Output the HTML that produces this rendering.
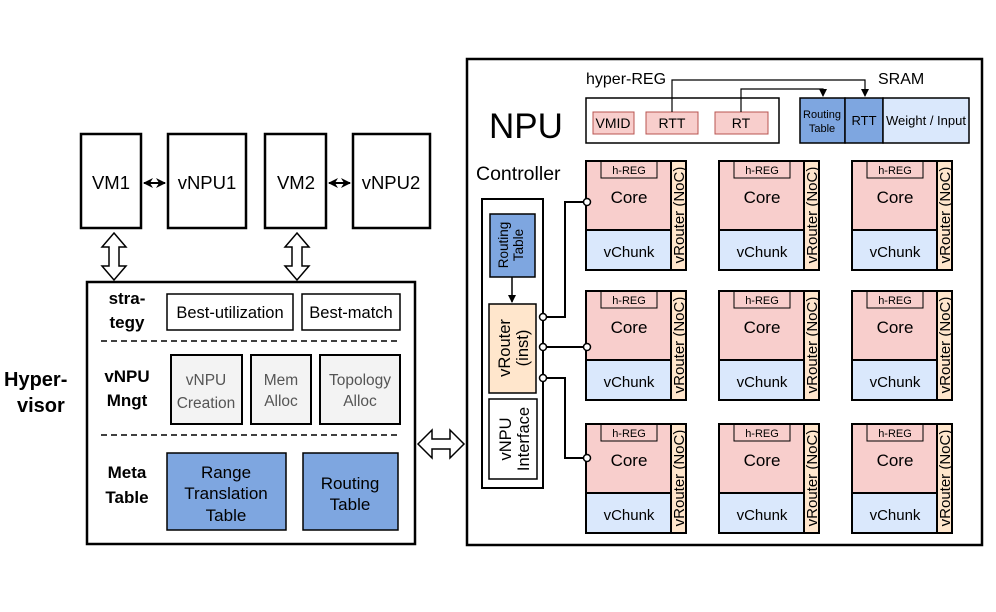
<!DOCTYPE html>
<html><head><meta charset="utf-8"><style>body{margin:0;background:#fff}svg{display:block}text{font-family:"Liberation Sans",sans-serif}</style></head><body>
<svg width="996" height="612" viewBox="0 0 996 612" xmlns="http://www.w3.org/2000/svg">
<defs>
<marker id="ah" markerWidth="8" markerHeight="8" refX="7" refY="4" orient="auto" markerUnits="userSpaceOnUse"><path d="M0,0 L8,4 L0,8 z" fill="#000"/></marker>
<marker id="ahs" markerWidth="10" markerHeight="10" refX="9" refY="5" orient="auto-start-reverse" markerUnits="userSpaceOnUse"><path d="M0,0 L10,5 L0,10 L3,5 z" fill="#000"/></marker>
</defs>
<g stroke="#000" stroke-width="2.5" fill="#fff">
<rect x="81" y="134" width="60" height="94"/>
<rect x="168" y="134" width="78" height="94"/>
<rect x="265" y="134" width="61" height="94"/>
<rect x="353" y="134" width="77" height="94"/>
</g>
<g font-size="18.5" text-anchor="middle">
<text x="111" y="189">VM1</text><text x="207" y="189">vNPU1</text>
<text x="296" y="189">VM2</text><text x="391" y="189">vNPU2</text>
</g>
<line x1="144" y1="183" x2="165" y2="183" stroke="#000" stroke-width="2" marker-start="url(#ahs)" marker-end="url(#ahs)"/>
<line x1="329" y1="183" x2="350" y2="183" stroke="#000" stroke-width="2" marker-start="url(#ahs)" marker-end="url(#ahs)"/>
<path d="M114,233 L126,247 L119,247 L119,266 L126,266 L114,280 L102,266 L109,266 L109,247 L102,247 Z" fill="#fff" stroke="#000" stroke-width="1.5"/>
<path d="M297,233 L309,247 L302,247 L302,266 L309,266 L297,280 L285,266 L292,266 L292,247 L285,247 Z" fill="#fff" stroke="#000" stroke-width="1.5"/>
<rect x="87" y="282" width="328" height="262" fill="#fff" stroke="#000" stroke-width="2.5"/>
<g font-size="20" font-weight="bold"><text x="4" y="386">Hyper-</text><text x="17" y="412">visor</text></g>
<g font-size="17" font-weight="bold" text-anchor="middle">
<text x="127" y="304">stra-</text><text x="127" y="328">tegy</text>
<text x="127" y="382">vNPU</text><text x="127" y="406">Mngt</text>
<text x="127" y="478">Meta</text><text x="127" y="503">Table</text>
</g>
<g stroke="#000" stroke-width="1.5" fill="#fff">
<rect x="167" y="294" width="126" height="36"/><rect x="302" y="294" width="98" height="36"/>
</g>
<g font-size="16.5" text-anchor="middle"><text x="230" y="318">Best-utilization</text><text x="351" y="318">Best-match</text></g>
<line x1="101" y1="341" x2="401" y2="341" stroke="#000" stroke-width="1.5" stroke-dasharray="6,4"/>
<line x1="101" y1="435" x2="401" y2="435" stroke="#000" stroke-width="1.5" stroke-dasharray="6,4"/>
<g stroke="#000" stroke-width="2" fill="#f3f3f3">
<rect x="171" y="355" width="71" height="69"/><rect x="251" y="355" width="60" height="69"/><rect x="320" y="355" width="80" height="69"/>
</g>
<g font-size="15.5" text-anchor="middle" fill="#555">
<text x="206" y="385">vNPU</text><text x="206" y="408">Creation</text>
<text x="281" y="385">Mem</text><text x="281" y="406">Alloc</text>
<text x="360" y="385">Topology</text><text x="360" y="406">Alloc</text>
</g>
<g stroke="#000" stroke-width="1.5" fill="#7ea6e0">
<rect x="167" y="453" width="119" height="77"/><rect x="303" y="453" width="95" height="77"/>
</g>
<g font-size="17" text-anchor="middle">
<text x="226" y="478">Range</text><text x="226" y="499">Translation</text><text x="226" y="521">Table</text>
<text x="350" y="489">Routing</text><text x="350" y="510">Table</text>
</g>
<path d="M418,444 L432,430 L432,439 L450,439 L450,430 L464,444 L450,458 L450,449 L432,449 L432,458 Z" fill="#fff" stroke="#000" stroke-width="1.5"/>
<rect x="467" y="59" width="515" height="486" fill="#fff" stroke="#000" stroke-width="2.5"/>
<text x="489" y="138" font-size="35">NPU</text>
<text x="476" y="180" font-size="19.5">Controller</text>
<text x="586" y="84" font-size="16">hyper-REG</text>
<text x="878" y="84" font-size="16">SRAM</text>
<rect x="586" y="98" width="193" height="45" fill="#fff" stroke="#000" stroke-width="1.5"/>
<g fill="#f8cecc" stroke="#b85450" stroke-width="1">
<rect x="593" y="112" width="41" height="22"/><rect x="646" y="112" width="52" height="22"/><rect x="715" y="112" width="53" height="22"/>
</g>
<g font-size="14" text-anchor="middle"><text x="613" y="128">VMID</text><text x="672" y="128">RTT</text><text x="741" y="128">RT</text></g>
<g stroke="#000" stroke-width="1.5">
<rect x="800" y="98" width="45" height="45" fill="#7ea6e0"/><rect x="845" y="98" width="38" height="45" fill="#7ea6e0"/><rect x="883" y="98" width="86" height="45" fill="#dae8fc"/>
</g>
<g font-size="11" text-anchor="middle"><text x="822" y="118">Routing</text><text x="822" y="132">Table</text></g>
<text x="864" y="125" font-size="13" text-anchor="middle">RTT</text>
<text x="926" y="125" font-size="13" text-anchor="middle">Weight / Input</text>
<g fill="none" stroke="#000" stroke-width="1.2">
<path d="M672,112 V80 H865 V96" marker-end="url(#ah)"/>
<path d="M741,112 V89 H823 V96" marker-end="url(#ah)"/>
</g>
<rect x="482" y="199" width="61" height="289" fill="#fff" stroke="#000" stroke-width="2"/>
<rect x="490" y="214" width="45" height="63" fill="#7ea6e0" stroke="#000" stroke-width="1.5"/>
<text transform="translate(508,245) rotate(-90)" font-size="13.5" text-anchor="middle">Routing</text>
<text transform="translate(523,245) rotate(-90)" font-size="13.5" text-anchor="middle">Table</text>
<line x1="512" y1="277" x2="512" y2="302" stroke="#000" stroke-width="1.5" marker-end="url(#ah)"/>
<rect x="489" y="304" width="47" height="89" fill="#ffe6cc" stroke="#000" stroke-width="1.5"/>
<text transform="translate(510,348) rotate(-90)" font-size="16.5" text-anchor="middle">vRouter</text>
<text transform="translate(528,348) rotate(-90)" font-size="16.5" text-anchor="middle">(inst)</text>
<rect x="489" y="399" width="48" height="80" fill="#fff" stroke="#000" stroke-width="1.5"/>
<text transform="translate(511,439) rotate(-90)" font-size="16.5" text-anchor="middle">vNPU</text>
<text transform="translate(529,439) rotate(-90)" font-size="16.5" text-anchor="middle">Interface</text>
<g fill="none" stroke="#000" stroke-width="2">
<path d="M543,317 H565 V202 H586"/><path d="M543,347 H586"/><path d="M543,378 H565 V458 H586"/>
</g>
<g fill="#fff" stroke="#000" stroke-width="1.5">
<circle cx="543" cy="317" r="3.5"/><circle cx="543" cy="347" r="3.5"/><circle cx="543" cy="378" r="3.5"/>
</g>
<g>
<g transform="translate(586,161)"><rect x="0" y="0" width="85" height="69" fill="#f8cecc" stroke="#000" stroke-width="2"/><rect x="0" y="69" width="85" height="40" fill="#dae8fc" stroke="#000" stroke-width="2"/><rect x="85" y="0" width="15" height="109" fill="#ffe6cc" stroke="#000" stroke-width="2"/><rect x="15" y="0" width="56" height="17" fill="none" stroke="#000" stroke-width="1"/><text x="43" y="13" font-size="11" text-anchor="middle">h-REG</text><text x="43" y="42" font-size="17" text-anchor="middle">Core</text><text x="43" y="96" font-size="15" text-anchor="middle">vChunk</text><text transform="translate(98,54) rotate(-90)" font-size="15" text-anchor="middle">vRouter (NoC)</text></g>
<g transform="translate(719,161)"><rect x="0" y="0" width="85" height="69" fill="#f8cecc" stroke="#000" stroke-width="2"/><rect x="0" y="69" width="85" height="40" fill="#dae8fc" stroke="#000" stroke-width="2"/><rect x="85" y="0" width="15" height="109" fill="#ffe6cc" stroke="#000" stroke-width="2"/><rect x="15" y="0" width="56" height="17" fill="none" stroke="#000" stroke-width="1"/><text x="43" y="13" font-size="11" text-anchor="middle">h-REG</text><text x="43" y="42" font-size="17" text-anchor="middle">Core</text><text x="43" y="96" font-size="15" text-anchor="middle">vChunk</text><text transform="translate(98,54) rotate(-90)" font-size="15" text-anchor="middle">vRouter (NoC)</text></g>
<g transform="translate(852,161)"><rect x="0" y="0" width="85" height="69" fill="#f8cecc" stroke="#000" stroke-width="2"/><rect x="0" y="69" width="85" height="40" fill="#dae8fc" stroke="#000" stroke-width="2"/><rect x="85" y="0" width="15" height="109" fill="#ffe6cc" stroke="#000" stroke-width="2"/><rect x="15" y="0" width="56" height="17" fill="none" stroke="#000" stroke-width="1"/><text x="43" y="13" font-size="11" text-anchor="middle">h-REG</text><text x="43" y="42" font-size="17" text-anchor="middle">Core</text><text x="43" y="96" font-size="15" text-anchor="middle">vChunk</text><text transform="translate(98,54) rotate(-90)" font-size="15" text-anchor="middle">vRouter (NoC)</text></g>
<g transform="translate(586,291)"><rect x="0" y="0" width="85" height="69" fill="#f8cecc" stroke="#000" stroke-width="2"/><rect x="0" y="69" width="85" height="40" fill="#dae8fc" stroke="#000" stroke-width="2"/><rect x="85" y="0" width="15" height="109" fill="#ffe6cc" stroke="#000" stroke-width="2"/><rect x="15" y="0" width="56" height="17" fill="none" stroke="#000" stroke-width="1"/><text x="43" y="13" font-size="11" text-anchor="middle">h-REG</text><text x="43" y="42" font-size="17" text-anchor="middle">Core</text><text x="43" y="96" font-size="15" text-anchor="middle">vChunk</text><text transform="translate(98,54) rotate(-90)" font-size="15" text-anchor="middle">vRouter (NoC)</text></g>
<g transform="translate(719,291)"><rect x="0" y="0" width="85" height="69" fill="#f8cecc" stroke="#000" stroke-width="2"/><rect x="0" y="69" width="85" height="40" fill="#dae8fc" stroke="#000" stroke-width="2"/><rect x="85" y="0" width="15" height="109" fill="#ffe6cc" stroke="#000" stroke-width="2"/><rect x="15" y="0" width="56" height="17" fill="none" stroke="#000" stroke-width="1"/><text x="43" y="13" font-size="11" text-anchor="middle">h-REG</text><text x="43" y="42" font-size="17" text-anchor="middle">Core</text><text x="43" y="96" font-size="15" text-anchor="middle">vChunk</text><text transform="translate(98,54) rotate(-90)" font-size="15" text-anchor="middle">vRouter (NoC)</text></g>
<g transform="translate(852,291)"><rect x="0" y="0" width="85" height="69" fill="#f8cecc" stroke="#000" stroke-width="2"/><rect x="0" y="69" width="85" height="40" fill="#dae8fc" stroke="#000" stroke-width="2"/><rect x="85" y="0" width="15" height="109" fill="#ffe6cc" stroke="#000" stroke-width="2"/><rect x="15" y="0" width="56" height="17" fill="none" stroke="#000" stroke-width="1"/><text x="43" y="13" font-size="11" text-anchor="middle">h-REG</text><text x="43" y="42" font-size="17" text-anchor="middle">Core</text><text x="43" y="96" font-size="15" text-anchor="middle">vChunk</text><text transform="translate(98,54) rotate(-90)" font-size="15" text-anchor="middle">vRouter (NoC)</text></g>
<g transform="translate(586,424)"><rect x="0" y="0" width="85" height="69" fill="#f8cecc" stroke="#000" stroke-width="2"/><rect x="0" y="69" width="85" height="40" fill="#dae8fc" stroke="#000" stroke-width="2"/><rect x="85" y="0" width="15" height="109" fill="#ffe6cc" stroke="#000" stroke-width="2"/><rect x="15" y="0" width="56" height="17" fill="none" stroke="#000" stroke-width="1"/><text x="43" y="13" font-size="11" text-anchor="middle">h-REG</text><text x="43" y="42" font-size="17" text-anchor="middle">Core</text><text x="43" y="96" font-size="15" text-anchor="middle">vChunk</text><text transform="translate(98,54) rotate(-90)" font-size="15" text-anchor="middle">vRouter (NoC)</text></g>
<g transform="translate(719,424)"><rect x="0" y="0" width="85" height="69" fill="#f8cecc" stroke="#000" stroke-width="2"/><rect x="0" y="69" width="85" height="40" fill="#dae8fc" stroke="#000" stroke-width="2"/><rect x="85" y="0" width="15" height="109" fill="#ffe6cc" stroke="#000" stroke-width="2"/><rect x="15" y="0" width="56" height="17" fill="none" stroke="#000" stroke-width="1"/><text x="43" y="13" font-size="11" text-anchor="middle">h-REG</text><text x="43" y="42" font-size="17" text-anchor="middle">Core</text><text x="43" y="96" font-size="15" text-anchor="middle">vChunk</text><text transform="translate(98,54) rotate(-90)" font-size="15" text-anchor="middle">vRouter (NoC)</text></g>
<g transform="translate(852,424)"><rect x="0" y="0" width="85" height="69" fill="#f8cecc" stroke="#000" stroke-width="2"/><rect x="0" y="69" width="85" height="40" fill="#dae8fc" stroke="#000" stroke-width="2"/><rect x="85" y="0" width="15" height="109" fill="#ffe6cc" stroke="#000" stroke-width="2"/><rect x="15" y="0" width="56" height="17" fill="none" stroke="#000" stroke-width="1"/><text x="43" y="13" font-size="11" text-anchor="middle">h-REG</text><text x="43" y="42" font-size="17" text-anchor="middle">Core</text><text x="43" y="96" font-size="15" text-anchor="middle">vChunk</text><text transform="translate(98,54) rotate(-90)" font-size="15" text-anchor="middle">vRouter (NoC)</text></g>
</g>
<g fill="#fff" stroke="#000" stroke-width="1.5">
<circle cx="587" cy="202" r="3.5"/><circle cx="587" cy="347" r="3.5"/><circle cx="587" cy="458" r="3.5"/>
</g>
</svg>
</body></html>
